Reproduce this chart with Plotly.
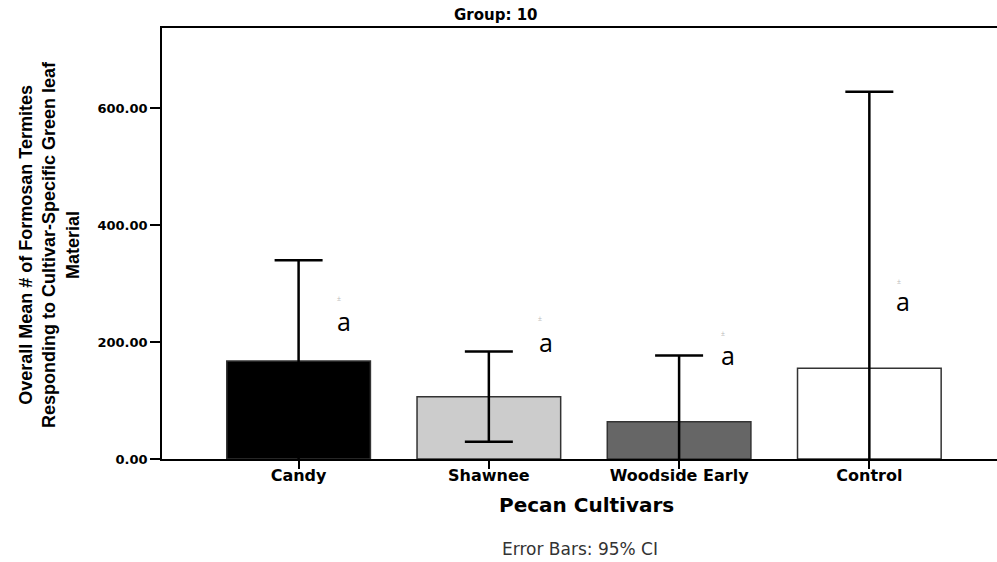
import plotly.graph_objects as go

categories = ["Candy", "Shawnee", "Woodside Early", "Control"]
means = [167.5, 106.5, 63.8, 155.0]
ci_upper = [340.0, 184.0, 177.0, 628.0]
ci_lower = [-5.0, 29.6, -49.0, -318.0]
bar_colors = ["#000000", "#cccccc", "#666666", "#ffffff"]
letters = ["a", "a", "a", "a"]
letter_pos = [(0.237, 234), (1.301, 198), (2.256, 176), (3.175, 268)]
mark_pos = [(0.213, 275), (1.27, 241), (2.23, 215), (3.155, 303)]
y_ticks = [0, 200, 400, 600]

err_plus = [u - m for u, m in zip(ci_upper, means)]
err_minus = [m - l for m, l in zip(means, ci_lower)]

fig = go.Figure()
fig.add_trace(go.Bar(
    x=list(range(len(categories))), y=means, width=0.755,
    marker=dict(color=bar_colors, line=dict(color="#333333", width=1.5)),
    error_y=dict(type="data", symmetric=False, array=err_plus, arrayminus=err_minus,
                 color="#000000", thickness=2.5, width=24),
    showlegend=False, hoverinfo="skip",
))

annotations = []
for (lx, ly), t in zip(letter_pos, letters):
    annotations.append(dict(x=lx, y=ly, xref="x", yref="y", text=t, showarrow=False,
                            font=dict(family="Open Sans", size=25, color="#000"),
                            xanchor="center", yanchor="middle", yshift=1))
for mx, my in mark_pos:
    annotations.append(dict(x=mx, y=my, xref="x", yref="y", text="±", showarrow=False,
                            font=dict(family="Liberation Sans", size=7, color="#bbbbbb"),
                            xanchor="center", yanchor="middle"))

PLOT_L, PLOT_R, PLOT_T, PLOT_B = 162, 997, 28, 459
W, H = 997, 562
pw = PLOT_R - PLOT_L
ph = PLOT_B - PLOT_T

def px_x(x):
    return (x - PLOT_L) / pw

def px_y(y):
    return (PLOT_B - y) / ph

annotations += [
    dict(x=px_x(496), y=px_y(15), xref="paper", yref="paper", text="<b>Group: 10</b>",
         showarrow=False, font=dict(family="DejaVu Sans", size=15, color="#000"),
         xanchor="center", yanchor="middle"),
    dict(x=px_x(586), y=px_y(505), xref="paper", yref="paper", text="<b>Pecan Cultivars</b>",
         showarrow=False, font=dict(family="DejaVu Sans", size=20, color="#000"),
         xanchor="center", yanchor="middle"),
    dict(x=px_x(580), y=px_y(549), xref="paper", yref="paper", text="Error Bars: 95% CI",
         showarrow=False, font=dict(family="DejaVu Sans", size=17, color="#333"),
         xanchor="center", yanchor="middle"),
    dict(x=px_x(49), y=px_y(245), xref="paper", yref="paper",
         text="<b>Overall Mean # of Formosan Termites<br>Responding to Cultivar-Specific Green leaf<br>Material</b>",
         showarrow=False, textangle=-90, font=dict(family="Liberation Sans", size=18, color="#000"),
         xanchor="center", yanchor="middle"),
]

fig.update_layout(
    width=W, height=H,
    margin=dict(l=PLOT_L, r=W - PLOT_R, t=PLOT_T, b=H - PLOT_B, pad=0),
    paper_bgcolor="white", plot_bgcolor="white",
    annotations=annotations,
    xaxis=dict(
        range=[-0.718, 3.671], tickmode="array", tickvals=list(range(len(categories))),
        ticktext=categories, ticks="outside", ticklen=8, tickcolor="#000", tickwidth=1.5,
        ticklabelstandoff=-7,
        showline=True, linecolor="#000", linewidth=1.5, mirror=True, showgrid=False,
        zeroline=False, tickfont=dict(family="DejaVu Sans", size=16, color="#000", weight="bold"),
    ),
    yaxis=dict(
        range=[0, 737], tickmode="array", tickvals=y_ticks, tickformat=".2f",
        ticks="outside", ticklen=10, tickcolor="#000", tickwidth=1.5,
        showline=True, linecolor="#000", linewidth=1.5, showgrid=False, zeroline=False,
        tickfont=dict(family="DejaVu Sans", size=13, color="#000", weight="bold"),
    ),
)

fig.write_html(
    "out.html",
    config={"displayModeBar": False},
    post_script="document.body.style.margin='0';document.body.style.overflow='hidden';",
)
